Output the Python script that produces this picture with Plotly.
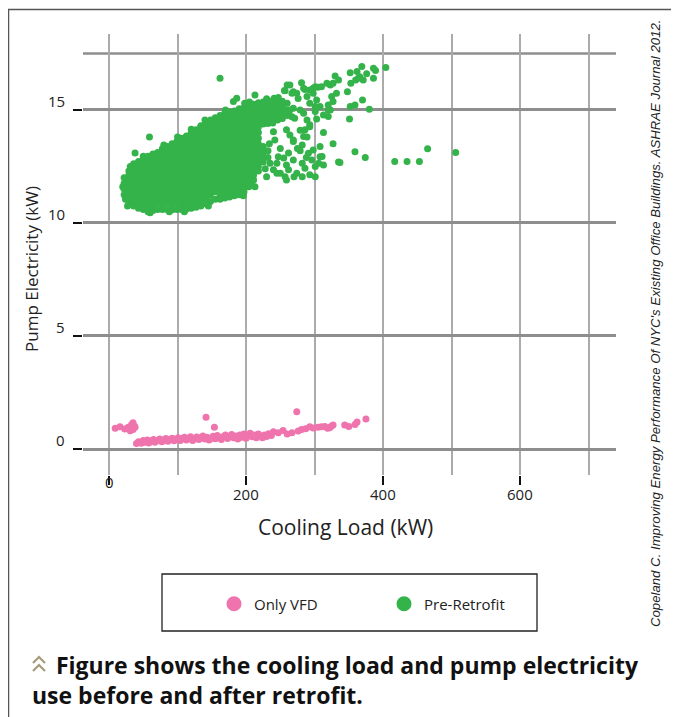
import plotly.graph_objects as go

# ---------------- data ----------------
series_names = ["Only VFD", "Pre-Retrofit"]
series_colors = ["#ef74ad", "#34b34a"]

# Only VFD (pink) points: (cooling load kW, pump kW)
pink_points = [
    (9, 0.92), (16, 0.99), (23, 0.88), (28, 0.96), (31, 0.81), (33, 1.08), (35, 1.16), (35, 0.86),
    (38, 0.96), (37, 1.02),
    (40, 0.24), (43, 0.32), (47, 0.26), (50, 0.38), (53, 0.3), (56, 0.4), (58, 0.27), (62, 0.36),
    (65, 0.42), (67, 0.3), (71, 0.38), (74, 0.44), (77, 0.32), (80, 0.4), (83, 0.46), (86, 0.34),
    (89, 0.42), (92, 0.48), (95, 0.36), (98, 0.44), (101, 0.5), (104, 0.38), (107, 0.45), (110, 0.52),
    (113, 0.4), (116, 0.47), (119, 0.54), (122, 0.38), (125, 0.46), (128, 0.53), (131, 0.42), (134, 0.5),
    (137, 0.57), (140, 0.44), (143, 0.52), (146, 0.4), (149, 0.48), (152, 0.56), (155, 0.45), (158, 0.6),
    (161, 0.5), (164, 0.42), (167, 0.55), (170, 0.62), (173, 0.46), (176, 0.54), (179, 0.64), (182, 0.5),
    (185, 0.58), (188, 0.44), (191, 0.62), (194, 0.52), (197, 0.66), (200, 0.48), (203, 0.58), (206, 0.7),
    (209, 0.54), (212, 0.62), (215, 0.5), (218, 0.66), (221, 0.58), (224, 0.5), (227, 0.62), (230, 0.55),
    (233, 0.68), (237, 0.6), (240, 0.76), (247, 0.72), (254, 0.82), (260, 0.66), (267, 0.72), (274, 1.65),
    (276, 0.8), (281, 0.86), (287, 0.9), (293, 0.99), (298, 0.93), (305, 0.96), (310, 0.98), (315, 1.0),
    (319, 0.92), (322, 0.94), (324, 1.0), (327, 1.06), (344, 1.06), (350, 1.0), (359, 1.08), (362, 1.2),
    (375, 1.33), (141.6, 1.4), (153.8, 0.96),
]

# Pre-Retrofit (green): dense core read column by column
green_core_x = [22, 29, 36, 43, 50, 57, 64, 71, 78, 85, 92, 99, 106, 113, 120, 127, 134, 141,
                148, 155, 162, 169, 176, 183, 190, 197, 204, 211, 218, 225, 232, 239, 246, 253, 260]
green_core_y = [
    [11.25, 11.5, 11.75, 12.0],
    [10.9, 11.12, 11.38, 11.62, 11.88, 12.12, 12.3],
    [10.75, 11.0, 11.25, 11.5, 11.75, 12.0, 12.25, 12.5, 12.62],
    [10.65, 10.88, 11.12, 11.38, 11.62, 11.88, 12.12, 12.38, 12.62, 12.72],
    [10.6, 10.75, 11.0, 11.25, 11.5, 11.75, 12.0, 12.25, 12.5, 12.75, 12.85],
    [10.5, 10.62, 10.88, 11.12, 11.38, 11.62, 11.88, 12.12, 12.38, 12.62, 12.88, 12.95],
    [10.55, 10.75, 11.0, 11.25, 11.5, 11.75, 12.0, 12.25, 12.5, 12.75, 13.0, 13.05],
    [10.6, 10.88, 11.12, 11.38, 11.62, 11.88, 12.12, 12.38, 12.62, 12.88, 13.12],
    [10.6, 10.75, 11.0, 11.25, 11.5, 11.75, 12.0, 12.25, 12.5, 12.75, 13.0, 13.25, 13.3],
    [10.6, 10.88, 11.12, 11.38, 11.62, 11.88, 12.12, 12.38, 12.62, 12.88, 13.12, 13.38],
    [10.58, 10.75, 11.0, 11.25, 11.5, 11.75, 12.0, 12.25, 12.5, 12.75, 13.0, 13.25, 13.5],
    [10.6, 10.88, 11.12, 11.38, 11.62, 11.88, 12.12, 12.38, 12.62, 12.88, 13.12, 13.38, 13.6],
    [10.6, 10.75, 11.0, 11.25, 11.5, 11.75, 12.0, 12.25, 12.5, 12.75, 13.0, 13.25, 13.5, 13.75],
    [10.62, 10.88, 11.12, 11.38, 11.62, 11.88, 12.12, 12.38, 12.62, 12.88, 13.12, 13.38, 13.62, 13.85],
    [10.65, 10.8, 11.0, 11.25, 11.5, 11.75, 12.0, 12.25, 12.5, 12.75, 13.0, 13.25, 13.5, 13.75, 14.0],
    [10.7, 10.88, 11.12, 11.38, 11.62, 11.88, 12.12, 12.38, 12.62, 12.88, 13.12, 13.38, 13.62, 13.88, 14.12],
    [10.75, 11.0, 11.25, 11.5, 11.75, 12.0, 12.25, 12.5, 12.75, 13.0, 13.25, 13.5, 13.75, 14.0, 14.25, 14.3],
    [10.85, 11.12, 11.38, 11.62, 11.88, 12.12, 12.38, 12.62, 12.88, 13.12, 13.38, 13.62, 13.88, 14.12, 14.38, 14.45],
    [10.95, 11.25, 11.5, 11.75, 12.0, 12.25, 12.5, 12.75, 13.0, 13.25, 13.5, 13.75, 14.0, 14.25, 14.5, 14.55],
    [11.05, 11.38, 11.62, 11.88, 12.12, 12.38, 12.62, 12.88, 13.12, 13.38, 13.62, 13.88, 14.12, 14.38, 14.65],
    [11.05, 11.25, 11.5, 11.75, 12.0, 12.25, 12.5, 12.75, 13.0, 13.25, 13.5, 13.75, 14.0, 14.25, 14.5, 14.75],
    [11.1, 11.38, 11.62, 11.88, 12.12, 12.38, 12.62, 12.88, 13.12, 13.38, 13.62, 13.88, 14.12, 14.38, 14.62, 14.85],
    [11.15, 11.35, 11.5, 11.75, 12.0, 12.25, 12.5, 12.75, 13.0, 13.25, 13.5, 13.75, 14.0, 14.25, 14.5, 14.75, 14.9],
    [11.2, 11.38, 11.62, 11.88, 12.12, 12.38, 12.62, 12.88, 13.12, 13.38, 13.62, 13.88, 14.12, 14.38, 14.62, 14.88, 14.95],
    [11.25, 11.5, 11.75, 12.0, 12.25, 12.5, 12.75, 13.0, 13.25, 13.5, 13.75, 14.0, 14.25, 14.5, 14.75, 15.0, 15.05],
    [11.38, 11.62, 11.88, 12.12, 12.38, 12.62, 12.88, 13.12, 13.38, 13.62, 13.88, 14.12, 14.38, 14.62, 14.88, 15.1],
    [11.6, 11.75, 12.0, 12.25, 12.5, 12.75, 13.0, 13.25, 13.5, 13.75, 14.0, 14.25, 14.5, 14.75, 15.0, 15.2],
    [11.9, 12.12, 12.38, 12.62, 12.88, 13.12, 13.38, 13.62, 13.88, 14.12, 14.38, 14.62, 14.88, 15.12, 15.25],
    [12.3, 12.5, 12.75, 13.0, 13.25, 13.5, 13.75, 14.0, 14.25, 14.5, 14.75, 15.0, 15.25, 15.32],
    [12.7, 12.88, 13.12, 13.38, 14.38, 14.62, 14.88, 15.12, 15.35],
    [12.9, 13.2, 14.4, 14.5, 14.75, 15.0, 15.25, 15.4],
    [14.42, 14.62, 14.88, 15.12, 15.38],
    [14.55, 14.75, 15.0, 15.25, 15.45],
    [14.62, 14.88, 15.12, 15.38],
    [14.75, 15.0, 15.3],
]

# Pre-Retrofit (green): scattered points around the core
green_scatter = [
    (162, 16.4), (59, 13.8), (38, 13.1), (50, 12.95), (31, 12.5), (24, 11.05), (20, 11.6), (27, 10.75),
    (60, 10.45), (88, 10.5), (110, 10.5), (145, 10.75), (181.5, 15.37), (186.4, 15.52), (213, 15.66),
    (120, 14.15), (140, 14.55), (100, 13.8), (80, 13.45), (170, 15.0), (198, 15.3), (205, 15.35),
    (230, 15.5), (241, 15.52), (247, 15.55), (256, 15.86), (260, 16.1), (267, 15.74), (281, 16.2),
    (286, 15.9), (264, 16.1), (257, 15.85), (269, 15.8), (274, 15.74), (284, 15.96), (276, 15.51),
    (293, 15.88), (298, 15.74), (289, 15.59), (303, 15.44), (293, 15.3), (308, 15.15), (301, 14.93),
    (313, 14.78), (298, 15.96), (305, 16.0), (301, 16.03), (310, 16.03), (318, 16.18), (323, 16.1),
    (327, 16.18), (330, 16.5), (335, 16.33), (332, 15.74), (325, 15.59), (327, 15.37), (320, 15.22),
    (323, 15.0), (320, 14.71), (348, 15.81), (353, 16.18), (352, 16.65), (360, 16.33), (362, 16.7),
    (364, 16.4), (366, 16.47), (369, 16.92), (371, 16.33), (376, 16.6), (386, 16.84), (389, 16.74),
    (386, 16.4), (404, 16.88), (370, 15.44), (359, 15.22), (352, 15.15), (380, 15.03), (351, 14.6),
    (240, 15.44), (245, 15.3), (269, 15.07), (279, 15.0), (262, 14.85), (271, 14.63), (289, 14.56),
    (293, 14.34), (286, 14.12), (267, 14.7), (255, 15.0), (264, 15.0), (243, 14.8), (279, 14.1),
    (293, 14.26), (303, 14.6), (284, 14.85), (301, 15.15), (320, 15.0),
    (240, 14.04), (259, 14.12), (264, 13.89), (242, 13.67), (269, 13.6), (284, 13.82), (282, 13.45),
    (298, 13.23), (291, 13.08), (308, 13.38), (313, 14.0), (311, 12.94), (306, 12.64), (313, 12.57),
    (296, 12.79), (282, 12.64), (269, 12.79), (259, 12.57), (255, 12.87), (245, 12.64), (240, 12.35),
    (250, 12.2), (262, 12.35), (274, 12.2), (286, 12.42), (293, 12.13), (301, 12.5), (230, 12.05),
    (257, 12.05), (282, 12.05), (269, 13.67), (279, 13.2), (289, 13.8), (308, 12.93), (301, 12.05),
    (270, 12.05), (259, 11.9), (245, 12.2), (247, 12.93), (235, 12.64), (327, 13.5), (335, 12.7),
    (275, 13.3), (250, 13.3), (262, 13.1), (288, 12.9), (234, 13.5), (228, 12.4), (213, 11.6),
    (208, 11.8), (196, 11.2),
    (337, 12.68), (359, 13.15), (374, 12.9), (417, 12.72), (435, 12.72), (453, 12.72), (465, 13.28),
    (506, 13.12),
]

x_tick_vals = [0, 200, 400, 600]
x_tick_text = ["0", "200", "400", "600"]
x_grid_minor = [100, 300, 500, 700]
y_tick_vals = [0, 5, 10, 15]
y_tick_text = ["0", "5", "10", "15"]
y_top_grid = 17.5

x_title = "Cooling Load (kW)"
y_title = "Pump Electricity (kW)"
caption_1 = "Figure shows the cooling load and pump electricity"
caption_2 = "use before and after retrofit."
credit = ("Copeland C. Improving Energy Performance Of NYC's Existing Office Buildings. "
          "ASHRAE Journal 2012.")

# ---------------- build ----------------
pink_x = [p[0] for p in pink_points]
pink_y = [p[1] for p in pink_points]
green_x = [x for x, ys in zip(green_core_x, green_core_y) for _ in ys] + [p[0] for p in green_scatter]
green_y = [y for ys in green_core_y for y in ys] + [p[1] for p in green_scatter]

# page geometry: the page body has an 8px margin, so the figure starts at (8, 8)
PAGE_W, PAGE_H, OFF = 679, 717, 8
W, H = PAGE_W - OFF, PAGE_H - OFF
L, R, T, B = 83, 616, 34, 475   # plot area in page pixels


def px(x):
    return (x - L) / (R - L)


def py(y):
    return (B - y) / (B - T)


FONT = "Open Sans, Noto Sans, sans-serif"
CAP_FONT = "Open Sans, Noto Sans, sans-serif"
NBSP = "\u00a0"

fig = go.Figure()
fig.add_trace(go.Scatter(x=pink_x, y=pink_y, mode="markers", name=series_names[0], showlegend=False,
                         marker=dict(size=7, color=series_colors[0], line=dict(width=0))))
fig.add_trace(go.Scatter(x=green_x, y=green_y, mode="markers", name=series_names[1], showlegend=False,
                         marker=dict(size=7, color=series_colors[1], line=dict(width=0))))
# legend entries (larger symbols as in the reference legend)
for name, col in zip(series_names, series_colors):
    fig.add_trace(go.Scatter(x=[None], y=[None], mode="markers", name=name, showlegend=True,
                             marker=dict(size=15, color=col, line=dict(width=0))))

annotations = []
for v, t in zip(y_tick_vals, y_tick_text):
    annotations.append(dict(x=px(67), xref="paper", y=v, yref="y", yshift=9, text=t, showarrow=False,
                            xanchor="right", yanchor="middle", font=dict(family=FONT, size=15, color="#222")))
for v, t in zip(x_tick_vals, x_tick_text):
    annotations.append(dict(x=v, xref="x", y=py(482 if v == 0 else 494), yref="paper", text=t,
                            showarrow=False, xanchor="center", yanchor="middle",
                            font=dict(family=FONT, size=15, color="#222")))
annotations += [
    dict(x=px(345), y=py(527), xref="paper", yref="paper", text=x_title, showarrow=False,
         xanchor="center", yanchor="middle", font=dict(family=FONT, size=21, color="#222")),
    dict(x=px(31), y=py(269), xref="paper", yref="paper", text=y_title, showarrow=False, textangle=-90,
         xanchor="center", yanchor="middle", font=dict(family=FONT, size=17, color="#222")),
    dict(x=px(30), y=py(679.5), xref="paper", yref="paper",
         text=NBSP * 4 + caption_1 + "<br>" + caption_2, showarrow=False, align="left",
         xanchor="left", yanchor="middle", font=dict(family=CAP_FONT, size=23, color="#111", weight=700)),
    dict(x=px(655), y=py(324), xref="paper", yref="paper", text="<i>" + credit + "</i>", showarrow=False,
         textangle=-90, xanchor="center", yanchor="middle",
         font=dict(family="Liberation Sans, Arial, sans-serif", size=13.2, color="#222")),
]

shapes = [
    dict(type="line", xref="paper", yref="y", x0=0, x1=1, y0=y_top_grid, y1=y_top_grid,
         line=dict(color="#8e8e8e", width=2.5), layer="below"),
    dict(type="rect", xref="paper", yref="paper", x0=px(8.5), x1=px(676), y0=py(9.5), y1=py(740),
         line=dict(color="#555", width=1.5)),
    dict(type="rect", xref="paper", yref="paper", x0=px(162), x1=px(537), y0=py(574), y1=py(631),
         line=dict(color="#222", width=1.3)),
]
# double chevron before the caption
for top in (657, 665):
    pts = [(33, top + 6), (39, top), (45, top + 6)]
    path = "M {} {} L {} {} L {} {}".format(px(pts[0][0]), py(pts[0][1]), px(pts[1][0]), py(pts[1][1]),
                                           px(pts[2][0]), py(pts[2][1]))
    shapes.append(dict(type="path", xref="paper", yref="paper", path=path,
                       line=dict(color="#a89a7c", width=2.2)))

fig.update_layout(
    width=W, height=H,
    margin=dict(l=L - OFF, r=PAGE_W - R, t=T - OFF, b=PAGE_H - B, pad=0),
    paper_bgcolor="white", plot_bgcolor="white",
    showlegend=True,
    legend=dict(orientation="h", x=px(214), y=py(604), xanchor="left", yanchor="middle",
                xref="paper", yref="paper", entrywidth=125, bgcolor="rgba(0,0,0,0)", borderwidth=0,
                font=dict(family=FONT, size=15, color="#222")),
    xaxis=dict(range=[-38, 740], tickmode="array", tickvals=x_tick_vals, showticklabels=False,
               ticks="outside", ticklen=9, tickwidth=2, tickcolor="#111",
               showgrid=True, gridcolor="#ababab", gridwidth=2,
               minor=dict(tickmode="array", tickvals=x_grid_minor, showgrid=True, gridcolor="#ababab",
                          gridwidth=2, ticks=""),
               zeroline=False, showline=False),
    yaxis=dict(range=[-1.15, 18.36], tickmode="array", tickvals=y_tick_vals, showticklabels=False,
               ticks="outside", ticklen=9, tickwidth=2, tickcolor="#111",
               showgrid=True, gridcolor="#8e8e8e", gridwidth=2.5,
               zeroline=False, showline=False),
    annotations=annotations,
    shapes=shapes,
)

fig.write_html("out.html")
